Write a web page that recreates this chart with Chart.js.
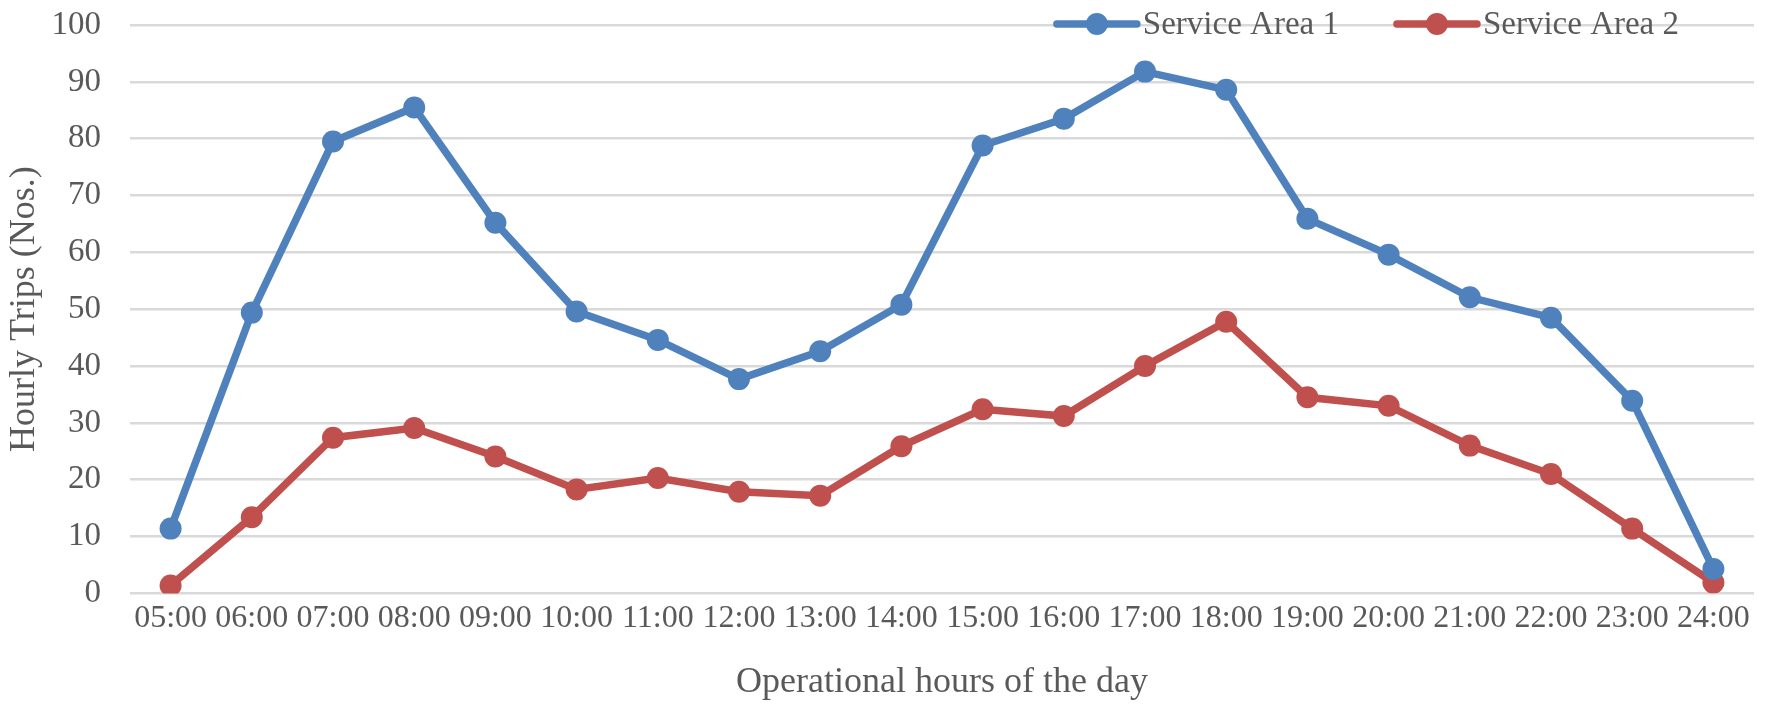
<!DOCTYPE html>
<html>
<head>
<meta charset="utf-8">
<script src="https://cdn.jsdelivr.net/npm/chart.js@4"></script>
<style>
  html, body { margin: 0; padding: 0; background: #ffffff; }
  #wrap { width: 1765px; height: 710px; position: relative; }
</style>
</head>
<body>
<div id="wrap"><canvas id="c" width="1765" height="710"></canvas></div>
<script>
const hours = ['05:00','06:00','07:00','08:00','09:00','10:00','11:00','12:00','13:00','14:00',
               '15:00','16:00','17:00','18:00','19:00','20:00','21:00','22:00','23:00','24:00'];
const seriesNames = ['Service Area 1', 'Service Area 2'];
const area1 = [11.4, 49.4, 79.5, 85.5, 65.2, 49.6, 44.6, 37.7, 42.6, 50.8,
               78.8, 83.5, 91.8, 88.6, 65.9, 59.6, 52.1, 48.5, 33.9, 4.3];
const area2 = [1.4, 13.4, 27.4, 29.1, 24.1, 18.3, 20.3, 17.9, 17.2, 25.9,
               32.4, 31.2, 40.0, 47.8, 34.5, 33.0, 26.0, 21.0, 11.4, 1.9];
const yTicks = [0, 10, 20, 30, 40, 50, 60, 70, 80, 90, 100];

const BLUE = '#4f81bd';
const RED = '#c0504d';
const TEXT = '#595959';
const FONT = '"Liberation Serif", "Times New Roman", serif';

const legendPlugin = {
  id: 'xlLegend',
  afterDraw(chart) {
    const ctx = chart.ctx;
    ctx.save();
    ctx.font = '33px ' + FONT;
    const lineLen = 80, textGap = 6, itemGap = 58;
    const items = chart.data.datasets.map(ds => ({
      label: ds.label, color: ds.borderColor,
      w: lineLen + textGap + ctx.measureText(ds.label).width
    }));
    const total = items.reduce((s, it) => s + it.w, 0) + itemGap * (items.length - 1);
    let x = chart.chartArea.right - 75 - total;
    const y = chart.chartArea.top - 1;
    items.forEach(it => {
      ctx.strokeStyle = it.color;
      ctx.lineWidth = 7.5;
      ctx.lineCap = 'round';
      ctx.beginPath();
      ctx.moveTo(x, y);
      ctx.lineTo(x + lineLen, y);
      ctx.stroke();
      ctx.fillStyle = it.color;
      ctx.beginPath();
      ctx.arc(x + lineLen / 2, y, 11, 0, Math.PI * 2);
      ctx.fill();
      ctx.fillStyle = TEXT;
      ctx.textBaseline = 'middle';
      ctx.textAlign = 'left';
      ctx.fillText(it.label, x + lineLen + textGap, y + 1);
      x += it.w + itemGap;
    });
    ctx.restore();
  }
};

new Chart(document.getElementById('c'), {
  type: 'line',
  data: {
    labels: hours,
    datasets: [
      { label: seriesNames[0], data: area1, borderColor: BLUE, backgroundColor: BLUE,
        borderWidth: 7.5, pointRadius: 11, pointBackgroundColor: BLUE, pointBorderColor: BLUE,
        pointBorderWidth: 0, tension: 0, fill: false },
      { label: seriesNames[1], data: area2, borderColor: RED, backgroundColor: RED,
        borderWidth: 7.5, pointRadius: 11, pointBackgroundColor: RED, pointBorderColor: RED,
        pointBorderWidth: 0, tension: 0, fill: false }
    ]
  },
  options: {
    responsive: false,
    animation: false,
    devicePixelRatio: 1,
    layout: { padding: { top: 25, left: 0, right: 7, bottom: 6 } },
    plugins: {
      legend: { display: false },
      tooltip: { enabled: false }
    },
    scales: {
      x: {
        type: 'category',
        offset: true,
        grid: { display: false, drawTicks: false },
        border: { display: false },
        ticks: { color: TEXT, font: { family: FONT, size: 32 }, padding: 6,
                 autoSkip: false, maxRotation: 0, minRotation: 0 },
        title: { display: true, text: 'Operational hours of the day', color: TEXT,
                 font: { family: FONT, size: 36 }, padding: { top: 17, bottom: 0 } }
      },
      y: {
        min: 0, max: 100,
        afterBuildTicks(scale) { scale.ticks = yTicks.map(v => ({ value: v })); },
        afterFit(scale) { scale.width = 130; scale.paddingTop = 20; scale.paddingBottom = 20; },
        grid: { color: '#d9d9d9', lineWidth: 2.5, drawTicks: false },
        border: { display: false },
        ticks: { color: TEXT, font: { family: FONT, size: 33 }, padding: 29 },
        title: { display: true, text: 'Hourly Trips (Nos.)', color: TEXT,
                 font: { family: FONT, size: 36 }, padding: { top: 3, bottom: 5 } }
      }
    }
  },
  plugins: [legendPlugin]
});
</script>
</body>
</html>
